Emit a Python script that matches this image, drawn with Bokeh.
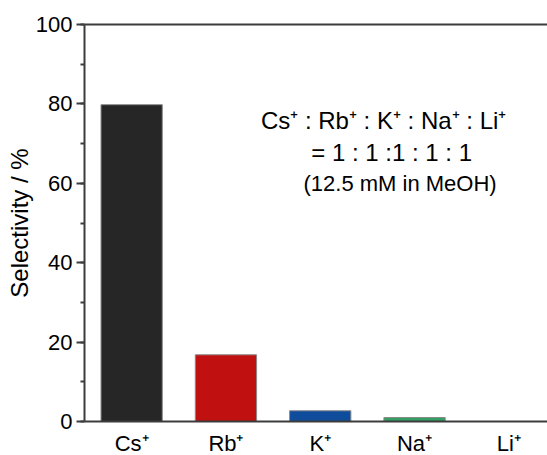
from bokeh.plotting import figure
from bokeh.models import SingleIntervalTicker, FixedTicker, LinearAxis, Range1d, ColumnDataSource
from bokeh.core.properties import value
from bokeh.embed import file_html
from bokeh.resources import INLINE

# data
ions = ["Cs\u207a", "Rb\u207a", "K\u207a", "Na\u207a", "Li\u207a"]
selectivity = [79.8, 16.8, 2.7, 1.0, 0.0]
bar_colors = ["#262626", "#c0100f", "#0f4c9c", "#35a064", "#ffffff"]
note_lines = ["Cs\u207a : Rb\u207a : K\u207a : Na\u207a : Li\u207a", "= 1 : 1 :1 : 1 : 1", "(12.5 mM in MeOH)"]

FONT = "Liberation Sans"
AX = "#3c3c3c"

xpos = list(range(1, len(ions) + 1))
src = ColumnDataSource(dict(x=xpos, top=selectivity, color=bar_colors))

p = figure(width=547, height=455, frame_width=463, frame_height=397,
           output_backend="svg", toolbar_location=None,
           x_range=Range1d(0.5, 5.41), y_range=Range1d(0, 100),
           min_border_left=84, min_border_right=0, min_border_top=24, min_border_bottom=0)
p.outline_line_color = None
p.xgrid.visible = False
p.ygrid.visible = False
p.background_fill_color = "white"
p.border_fill_color = "white"

p.vbar(x="x", top="top", width=0.65, bottom=0, fill_color="color", line_color="#8a8a8a", line_width=1, source=src)

# annotation
p.text(x=[3.672, 3.757, 3.847], y=[75.8, 67.7, 59.9], text=note_lines,
       text_font=value(FONT), text_font_size=["24px", "24px", "22px"],
       text_align="center", text_baseline="middle", text_color="black")

# y axis
ya = p.yaxis[0]
ya.ticker = SingleIntervalTicker(interval=20, num_minor_ticks=2)
ya.axis_label = "Selectivity / %"
ya.axis_label_text_font = FONT
ya.axis_label_text_font_size = "24px"
ya.axis_label_text_font_style = "normal"
ya.axis_label_text_color = "black"
ya.axis_label_standoff = 0
ya.major_label_text_font = FONT
ya.major_label_text_font_size = "22px"
ya.major_label_text_color = "black"
ya.major_label_standoff = 4
ya.axis_line_color = AX
ya.axis_line_width = 2
ya.major_tick_line_color = AX
ya.major_tick_line_width = 2
ya.major_tick_in = 0
ya.major_tick_out = 8
ya.minor_tick_line_color = AX
ya.minor_tick_line_width = 2
ya.minor_tick_in = 0
ya.minor_tick_out = 4

# x axis
xa = p.xaxis[0]
xa.ticker = FixedTicker(ticks=xpos)
xa.major_label_overrides = {x: lab for x, lab in zip(xpos, ions)}
xa.major_label_text_font = FONT
xa.major_label_text_font_size = "22px"
xa.major_label_text_color = "black"
xa.major_label_standoff = 3
xa.axis_line_color = AX
xa.axis_line_width = 2
xa.major_tick_line_color = None
xa.minor_tick_line_color = None

# top frame line
top = LinearAxis(ticker=FixedTicker(ticks=[]), major_label_text_font_size="0px",
                 axis_line_color=AX, axis_line_width=2,
                 major_tick_line_color=None, minor_tick_line_color=None)
p.add_layout(top, "above")

open("out.html", "w").write(file_html(p, INLINE))
